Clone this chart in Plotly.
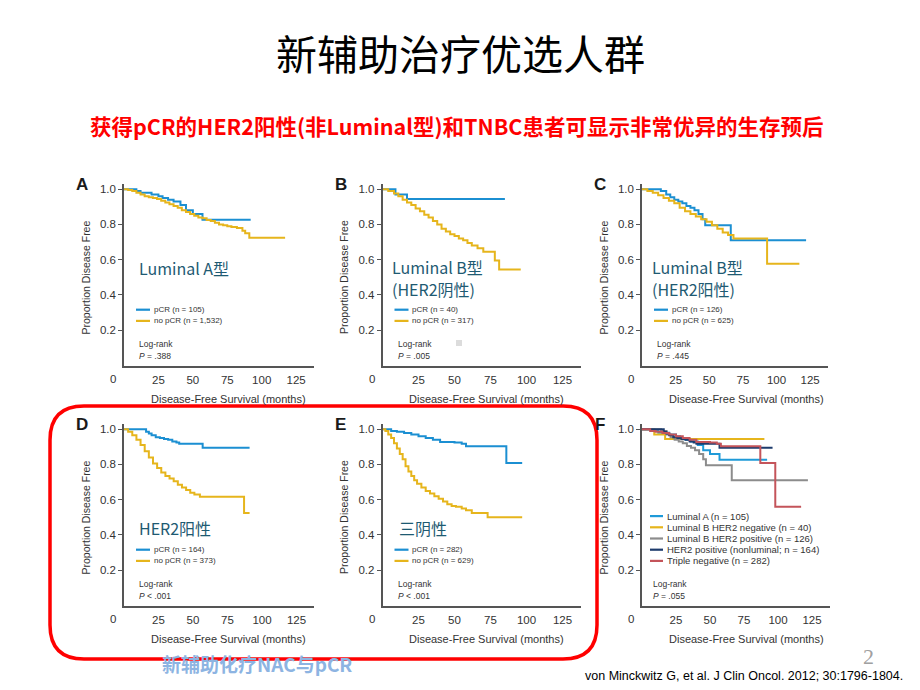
import plotly.graph_objects as go

W, H = 920, 690

# ---------------- data ----------------
month_ticks = [25, 50, 75, 100, 125]
surv_ticks = [0.2, 0.4, 0.6, 0.8, 1.0]
surv_ticktext = ["0.2", "0.4", "0.6", "0.8", "1.0"]

# A: Luminal A
A_pcr_t = [0, 9, 12, 20, 25, 28, 32, 36, 41, 45, 50, 57, 92]
A_pcr_s = [1, .99, .98, .97, .96, .95, .94, .93, .91, .88, .86, .827, .827]
A_no_t = [0, 3, 6, 9, 12, 15, 18, 21, 24, 27, 30, 33, 36, 39, 42, 45, 48, 51, 54, 57,
          60, 63, 66, 69, 72, 75, 78, 82, 86, 88, 91, 117]
A_no_s = [1, .995, .99, .98, .97, .96, .955, .95, .945, .935, .925, .915, .905, .895, .88,
          .87, .86, .85, .84, .835, .825, .82, .81, .80, .795, .79, .785, .78, .765, .75, .725, .725]

# B: Luminal B HER2-negative
B_pcr_t = [0, 9, 17, 85]
B_pcr_s = [1, .97, .945, .945]
B_no_t = [0, 4, 8, 11, 14, 17, 20, 23, 26, 29, 32, 35, 38, 41, 44, 47, 50, 53, 56, 59,
          62, 66, 70, 78, 81, 96]
B_no_s = [1, .99, .975, .96, .94, .925, .91, .89, .875, .855, .84, .82, .80, .775, .76,
          .745, .735, .72, .71, .695, .68, .665, .645, .595, .545, .545]

# C: Luminal B HER2-positive
C_pcr_t = [0, 14, 18, 21, 24, 27, 30, 33, 36, 39, 42, 45, 47, 66, 122]
C_pcr_s = [1, .99, .97, .955, .94, .93, .92, .905, .895, .88, .86, .83, .795, .71, .71]
C_no_t = [0, 4, 8, 12, 16, 20, 24, 28, 32, 36, 40, 44, 48, 52, 56, 60, 64, 68, 93, 117]
C_no_s = [1, .99, .98, .965, .95, .935, .92, .895, .875, .86, .845, .83, .815, .795,
          .775, .755, .74, .72, .577, .577]

# D: HER2-positive (nonluminal)
D_pcr_t = [0, 16, 18, 20, 23, 26, 29, 32, 35, 38, 40, 57, 91]
D_pcr_s = [1, .985, .975, .965, .955, .95, .945, .94, .93, .925, .917, .895, .895]
D_no_t = [0, 3, 6, 9, 12, 15, 18, 21, 24, 27, 30, 33, 36, 39, 42, 45, 48, 51, 55, 87, 91]
D_no_s = [1, .985, .965, .94, .91, .875, .84, .805, .78, .755, .735, .72, .705, .685,
          .67, .655, .64, .63, .617, .525, .525]

# E: Triple negative
E_pcr_t = [0, 6, 10, 15, 20, 25, 30, 35, 40, 50, 55, 58, 86, 97]
E_pcr_s = [1, .99, .985, .978, .97, .96, .95, .94, .928, .925, .918, .903, .808, .808]
E_no_t = [0, 2, 4, 6, 8, 10, 12, 14, 16, 18, 20, 22, 24, 27, 30, 33, 36, 39, 42, 45,
          48, 51, 55, 58, 62, 73, 97]
E_no_s = [1, .99, .97, .95, .92, .89, .86, .83, .79, .76, .735, .71, .69, .67, .65,
          .635, .62, .605, .59, .575, .565, .56, .55, .54, .525, .5, .5]

# F: curves by subtype in pCR patients (panel F has slightly longer follow-up)
F_her2_t = [0, 16, 18, 20, 23, 26, 29, 32, 35, 38, 40, 57, 96]
F_her2_s = [1, .985, .975, .965, .955, .95, .945, .94, .93, .925, .917, .895, .895]
F_lbn_t = [0, 9, 17, 90]
F_lbn_s = [1, .97, .945, .945]
F_tn_t = [0, 6, 10, 15, 20, 25, 30, 35, 40, 50, 55, 58, 87, 98, 117]
F_tn_s = [1, .99, .985, .978, .97, .96, .95, .94, .928, .925, .918, .903, .808, .56, .56]

BLUE = "#1b8fd2"
YELLOW = "#e6b51c"
LBLUE = "#1f9ad8"
GRAY = "#8c8c8c"
NAVY = "#1d3b6c"
RED = "#c4545a"

# panel geometry: left pixel of month 0, pixels per month, pixel of S=0
geo = {
    "A": (124.0, 1.377, 365.5),
    "B": (382.5, 1.44, 365.5),
    "C": (642.0, 1.345, 365.5),
    "D": (124.0, 1.38, 605.5),
    "E": (382.5, 1.44, 605.5),
    "F": (642.0, 1.36, 605.5),
}
PXPU = 176.3
XMAX = 138
YMAX = 1.03

panel_series = {
    "A": [(A_pcr_t, A_pcr_s, BLUE), (A_no_t, A_no_s, YELLOW)],
    "B": [(B_pcr_t, B_pcr_s, BLUE), (B_no_t, B_no_s, YELLOW)],
    "C": [(C_pcr_t, C_pcr_s, BLUE), (C_no_t, C_no_s, YELLOW)],
    "D": [(D_pcr_t, D_pcr_s, BLUE), (D_no_t, D_no_s, YELLOW)],
    "E": [(E_pcr_t, E_pcr_s, BLUE), (E_no_t, E_no_s, YELLOW)],
    "F": [(A_pcr_t, A_pcr_s, LBLUE), (F_lbn_t, F_lbn_s, YELLOW), (C_pcr_t, C_pcr_s, GRAY),
          (F_her2_t, F_her2_s, NAVY), (F_tn_t, F_tn_s, RED)],
}

legend_items = {
    "A": [("pCR (n = 105)", BLUE), ("no pCR (n = 1,532)", YELLOW)],
    "B": [("pCR (n = 40)", BLUE), ("no pCR (n = 317)", YELLOW)],
    "C": [("pCR (n = 126)", BLUE), ("no pCR (n = 625)", YELLOW)],
    "D": [("pCR (n = 164)", BLUE), ("no pCR (n = 373)", YELLOW)],
    "E": [("pCR (n = 282)", BLUE), ("no pCR (n = 629)", YELLOW)],
    "F": [("Luminal A (n = 105)", LBLUE), ("Luminal B HER2 negative (n = 40)", YELLOW),
          ("Luminal B HER2 positive (n = 126)", GRAY),
          ("HER2 positive (nonluminal; n = 164)", NAVY),
          ("Triple negative (n = 282)", RED)],
}
pvals = {"A": "= .388", "B": "= .005", "C": "= .445", "D": "< .001", "E": "< .001", "F": "= .055"}

overlay_text = {
    "A": [("Luminal A型", 13, -98)],
    "B": [("Luminal B型", 7.5, -99), ("(HER2阴性)", 7.5, -77)],
    "C": [("Luminal B型", 8, -99), ("(HER2阳性)", 8, -77)],
    "D": [("HER2阳性", 13, -78)],
    "E": [("三阴性", 14.5, -78)],
}

NARROW = "Liberation Sans Narrow, Arial Narrow, Liberation Sans, Arial, sans-serif"
CJK = "Noto Sans CJK SC, sans-serif"

fig = go.Figure()
layout = dict(width=W, height=H, margin=dict(l=0, r=0, t=0, b=0),
              paper_bgcolor="white", plot_bgcolor="rgba(0,0,0,0)", showlegend=False)

# overlay pixel axes (index 7) used to place texts and frames
layout["xaxis7"] = dict(domain=[0, 1], range=[0, W], visible=False, fixedrange=True,
                        anchor="y7")
layout["yaxis7"] = dict(domain=[0, 1], range=[H, 0], visible=False, fixedrange=True,
                        anchor="x7")

annotations = []
shapes = []


def ann(x, y, text, size, color="black", family=NARROW, xanchor="center", angle=0, **kw):
    annotations.append(dict(x=x, y=y, xref="x7", yref="y7", text=text, showarrow=False,
                            xanchor=xanchor, yanchor="middle", textangle=angle,
                            font=dict(size=size, color=color, family=family), **kw))


for i, key in enumerate(["A", "B", "C", "D", "E", "F"]):
    idx = i + 1
    x0, pxpm, y0 = geo[key]
    xs = "" if idx == 1 else str(idx)
    xdom = [x0 / W, (x0 + XMAX * pxpm) / W]
    ydom = [1 - y0 / H, 1 - (y0 - YMAX * PXPU) / H]
    layout["xaxis" + xs] = dict(domain=xdom, range=[0, XMAX], anchor="y" + xs,
                                showline=True, linecolor="#555555", linewidth=1.5,
                                showgrid=False, zeroline=False, ticks="",
                                tickvals=month_ticks, ticklabelstandoff=3,
                                tickfont=dict(size=11.5, color="#333333", family=NARROW),
                                fixedrange=True)
    layout["yaxis" + xs] = dict(domain=ydom, range=[0, YMAX], anchor="x" + xs,
                                showline=True, linecolor="#555555", linewidth=1.5,
                                showgrid=False, zeroline=False, ticks="outside",
                                ticklen=4, tickwidth=1, tickcolor="#555555",
                                tickvals=surv_ticks, ticktext=surv_ticktext,
                                tickfont=dict(size=11.5, color="#333333", family=NARROW),
                                fixedrange=True)
    for t, s, col in panel_series[key]:
        fig.add_trace(go.Scatter(x=t, y=s, mode="lines", line=dict(color=col, width=2, shape="hv"),
                                 xaxis="x" + xs, yaxis="y" + xs, hoverinfo="skip"))

    # "0" tick label (offset left as in the reference)
    ann(x0 - 11, y0 + 13, "0", 11.5, "#333333")
    # axis titles
    ann(x0 - 39, y0 - 88, "Proportion Disease Free", 10.5, "#333333", angle=-90)
    ann(x0 + 104, y0 + 33, "Disease-Free Survival (months)", 11, "#333333")
    # panel letter
    ann(x0 - 42, y0 - 181, "<b>%s</b>" % key, 17, "#1a1a1a",
        family="Liberation Sans, Arial, sans-serif")

    # legend
    items = legend_items[key]
    n = len(items)
    row_y = [y0 - 44.6 - 11.2 * (n - 1 - j) for j in range(n)]
    lx0 = x0 + 12 if key != "F" else x0 + 8
    lx1 = x0 + 26 if key != "F" else x0 + 21
    lsize = 8 if key != "F" else 9.5
    for (label, col), ry in zip(items, row_y):
        shapes.append(dict(type="line", xref="x7", yref="y7", x0=lx0, x1=lx1, y0=ry, y1=ry,
                           line=dict(color=col, width=2.2)))
        ann(lx1 + 1.5, ry, label, lsize, "#333333", xanchor="left")
    ann(lx0 + 1, y0 - 21.3, "Log-rank", 8.5, "#333333", xanchor="left")
    ann(lx0 + 1, y0 - 9.3, "<i>P</i> " + pvals[key], 8.5, "#333333", xanchor="left")

    # Chinese overlay labels
    for txt, dx, dy in overlay_text.get(key, []):
        ann(x0 + dx, y0 + dy, txt, 16, "#1e5a72", family=CJK, xanchor="left")

# small gray artifact square in panel B
shapes.append(dict(type="rect", xref="x7", yref="y7", x0=456, x1=462, y0=340, y1=346,
                   fillcolor="#dcdcdc", line=dict(width=0)))

# red rounded rectangle highlighting D and E
L, R, T, B, r = 50, 597, 406, 659, 34
path = (f"M {L + r},{T} L {R - r},{T} Q {R},{T} {R},{T + r} L {R},{B - r} "
        f"Q {R},{B} {R - r},{B} L {L + r},{B} Q {L},{B} {L},{B - r} L {L},{T + r} "
        f"Q {L},{T} {L + r},{T} Z")
shapes.append(dict(type="path", xref="x7", yref="y7", path=path,
                   line=dict(color="#ff0000", width=3.5), layer="above"))

# titles
ann(460, 52, "新辅助治疗优选人群", 41, "black", family=CJK)
ann(456, 125, "<b>获得pCR的HER2阳性(非Luminal型)和TNBC患者可显示非常优异的生存预后</b>", 21.5,
    "#ff0000", family=CJK)

# footer texts
ann(160, 663, "<b>新辅助化疗NAC与pCR</b>", 19, "#8db4e2", family=CJK, xanchor="left")
ann(868, 656, "2", 22, "#a0a0a0", family="Liberation Serif, serif")
ann(905, 676, "von Minckwitz G, et al. J Clin Oncol. 2012; 30:1796-1804.", 12.5, "black",
    xanchor="right")

layout["annotations"] = annotations
layout["shapes"] = shapes
fig.update_layout(**layout)
fig.write_html("out.html", config={"displayModeBar": False},
               post_script="document.body.style.margin='0px';document.body.style.overflow='hidden';")
